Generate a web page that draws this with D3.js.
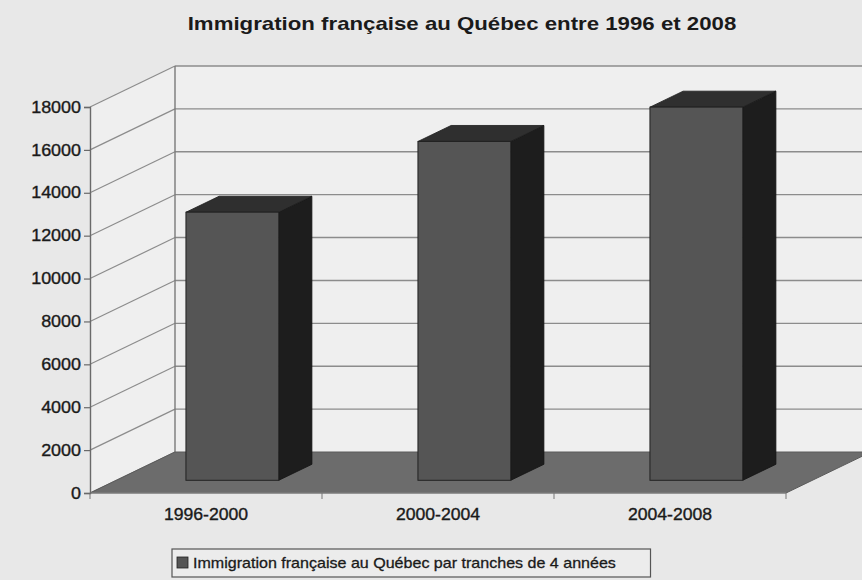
<!DOCTYPE html>
<html>
<head>
<meta charset="utf-8">
<script src="https://cdnjs.cloudflare.com/ajax/libs/d3/7.8.5/d3.min.js"></script>
<style>
  body { margin: 0; background: #e8e8e8; }
  svg { display: block; font-family: "Liberation Sans", Arial, sans-serif; }
</style>
</head>
<body>
<div id="graphic"></div>
<script>
// chart data
var categories = ["1996-2000", "2000-2004", "2004-2008"];
var values = [12500, 15800, 17400];
var yTicks = [0, 2000, 4000, 6000, 8000, 10000, 12000, 14000, 16000, 18000];
var title = "Immigration française au Québec entre 1996 et 2008";
var seriesName = "Immigration française au Québec par tranches de 4 années";

var width = 862, height = 580;
var depthX = 85, depthY = -41;     // oblique offset of the floor depth
var barFront = 0.31, barBack = 0.70; // bar position inside depth

var svg = d3.select("#graphic").append("svg")
  .attr("width", width).attr("height", height);

svg.append("rect").attr("width", width).attr("height", height).attr("fill", "#e8e8e8");

var x = d3.scaleBand().domain(categories).range([90, 786])
  .paddingInner(0.6).paddingOuter(0.3);
var y = d3.scaleLinear().domain([0, 18000]).range([493, 107]);

function dpt(t) { return [t * depthX, t * depthY]; }

// stretch text horizontally like the scanned original
function stretch(sel, k) {
  sel.each(function() {
    var w = this.getComputedTextLength();
    d3.select(this).attr("textLength", w * k).attr("lengthAdjust", "spacingAndGlyphs");
  });
}

var x0 = x.range()[0], x1 = x.range()[1];
var y0 = y(0), yTop = y(18000);
var back = dpt(1);

// walls
svg.append("rect")
  .attr("x", x0 + back[0]).attr("y", yTop + back[1])
  .attr("width", width - x0 - back[0]).attr("height", y0 - yTop)
  .attr("fill", "#efefef");
svg.append("polygon")
  .attr("points", [[x0, yTop], [x0 + back[0], yTop + back[1]], [x0 + back[0], y0 + back[1]], [x0, y0]].join(" "))
  .attr("fill", "#efefef");

// back gridlines
svg.append("g").selectAll("line").data(yTicks.filter(function(d) { return d > 0; })).enter()
  .append("line")
  .attr("x1", x0 + back[0]).attr("x2", width)
  .attr("y1", function(d) { return y(d) + back[1]; })
  .attr("y2", function(d) { return y(d) + back[1]; })
  .attr("stroke", "#8c8c8c").attr("stroke-width", 1.4);

// side diagonals
svg.append("g").selectAll("line").data(yTicks).enter()
  .append("line")
  .attr("x1", x0).attr("x2", x0 + back[0])
  .attr("y1", function(d) { return y(d); })
  .attr("y2", function(d) { return y(d) + back[1]; })
  .attr("stroke", "#8c8c8c").attr("stroke-width", 1.2);

// back wall left edge
svg.append("line")
  .attr("x1", x0 + back[0]).attr("x2", x0 + back[0])
  .attr("y1", yTop + back[1]).attr("y2", y0 + back[1])
  .attr("stroke", "#7a7a7a").attr("stroke-width", 1.4);

// floor
svg.append("polygon")
  .attr("points", [[x0, y0], [x1, y0], [x1 + back[0], y0 + back[1]], [x0 + back[0], y0 + back[1]]].join(" "))
  .attr("fill", "#6c6c6c").attr("stroke", "#5a5a5a").attr("stroke-width", 1);

// front edge and category boundary ticks
svg.append("line").attr("x1", x0).attr("x2", x1).attr("y1", y0).attr("y2", y0)
  .attr("stroke", "#8a8a8a").attr("stroke-width", 1.2);
svg.append("g").selectAll("line").data(d3.range(categories.length + 1)).enter()
  .append("line")
  .attr("x1", function(i) { return x0 + i * x.step(); })
  .attr("x2", function(i) { return x0 + i * x.step(); })
  .attr("y1", y0).attr("y2", y0 + 6)
  .attr("stroke", "#777").attr("stroke-width", 1);

// y axis
var yAxis = svg.append("g").attr("transform", "translate(" + x0 + ",0)")
  .call(d3.axisLeft(y).tickValues(yTicks).tickFormat(d3.format("d")).tickSize(6).tickPadding(3));
yAxis.select(".domain").attr("stroke", "#6a6a6a").attr("stroke-width", 1.4);
yAxis.selectAll(".tick line").attr("stroke", "#6a6a6a").attr("stroke-width", 1.2);
yAxis.selectAll("text").attr("font-size", 16).attr("fill", "#1a1a1a")
  .attr("stroke", "#1a1a1a").attr("stroke-width", 0.35)
  .attr("font-family", "'Liberation Sans', Arial, sans-serif").call(stretch, 1.12);

// bars
var bf = dpt(barFront), bb = dpt(barBack);
var bars = svg.append("g").selectAll("g").data(values).enter().append("g");

bars.append("polygon") // side face
  .attr("points", function(d, i) {
    var xr = x(categories[i]) + x.bandwidth() + bf[0];
    return [[xr, y(d) + bf[1]], [xr + bb[0] - bf[0], y(d) + bb[1]],
            [xr + bb[0] - bf[0], y(0) + bb[1]], [xr, y(0) + bf[1]]].join(" ");
  })
  .attr("fill", "#1d1d1d").attr("stroke", "#111").attr("stroke-width", 0.8);

bars.append("polygon") // top face
  .attr("points", function(d, i) {
    var xl = x(categories[i]) + bf[0], xr = xl + x.bandwidth(), dx = bb[0] - bf[0], dy = bb[1] - bf[1];
    var yt = y(d) + bf[1];
    return [[xl, yt], [xl + dx, yt + dy], [xr + dx, yt + dy], [xr, yt]].join(" ");
  })
  .attr("fill", "#2f2f2f").attr("stroke", "#1a1a1a").attr("stroke-width", 0.8);

bars.append("rect") // front face
  .attr("x", function(d, i) { return x(categories[i]) + bf[0]; })
  .attr("y", function(d) { return y(d) + bf[1]; })
  .attr("width", x.bandwidth())
  .attr("height", function(d) { return y(0) - y(d); })
  .attr("fill", "#555555").attr("stroke", "#222").attr("stroke-width", 1);

// x axis labels
var xAxis = svg.append("g").attr("transform", "translate(0," + y0 + ")")
  .call(d3.axisBottom(x).tickSize(0).tickPadding(16));
xAxis.select(".domain").remove();
xAxis.selectAll("text").attr("font-size", 16).attr("fill", "#1a1a1a")
  .attr("stroke", "#1a1a1a").attr("stroke-width", 0.35)
  .attr("font-family", "'Liberation Sans', Arial, sans-serif").call(stretch, 1.1);

// title
svg.append("text").attr("x", 462).attr("y", 30).attr("text-anchor", "middle")
  .attr("font-size", 19).attr("font-weight", "bold").attr("fill", "#1a1a1a")
  .text(title).call(stretch, 1.17);

// legend
var legend = svg.append("g");
var legBox = legend.append("rect").attr("x", 172).attr("y", 549).attr("height", 28)
  .attr("fill", "#ececec").attr("stroke", "#555").attr("stroke-width", 1.2);
legend.append("rect").attr("x", 177).attr("y", 557).attr("width", 11).attr("height", 11)
  .attr("fill", "#555").attr("stroke", "#222").attr("stroke-width", 0.8);
var legText = legend.append("text").attr("x", 193).attr("y", 568)
  .attr("font-size", 15).attr("fill", "#1a1a1a")
  .attr("stroke", "#1a1a1a").attr("stroke-width", 0.3)
  .text(seriesName).call(stretch, 1.07);
legBox.attr("width", 193 + legText.node().getComputedTextLength() * 1.07 + 5 - 172);
</script>
</body>
</html>
